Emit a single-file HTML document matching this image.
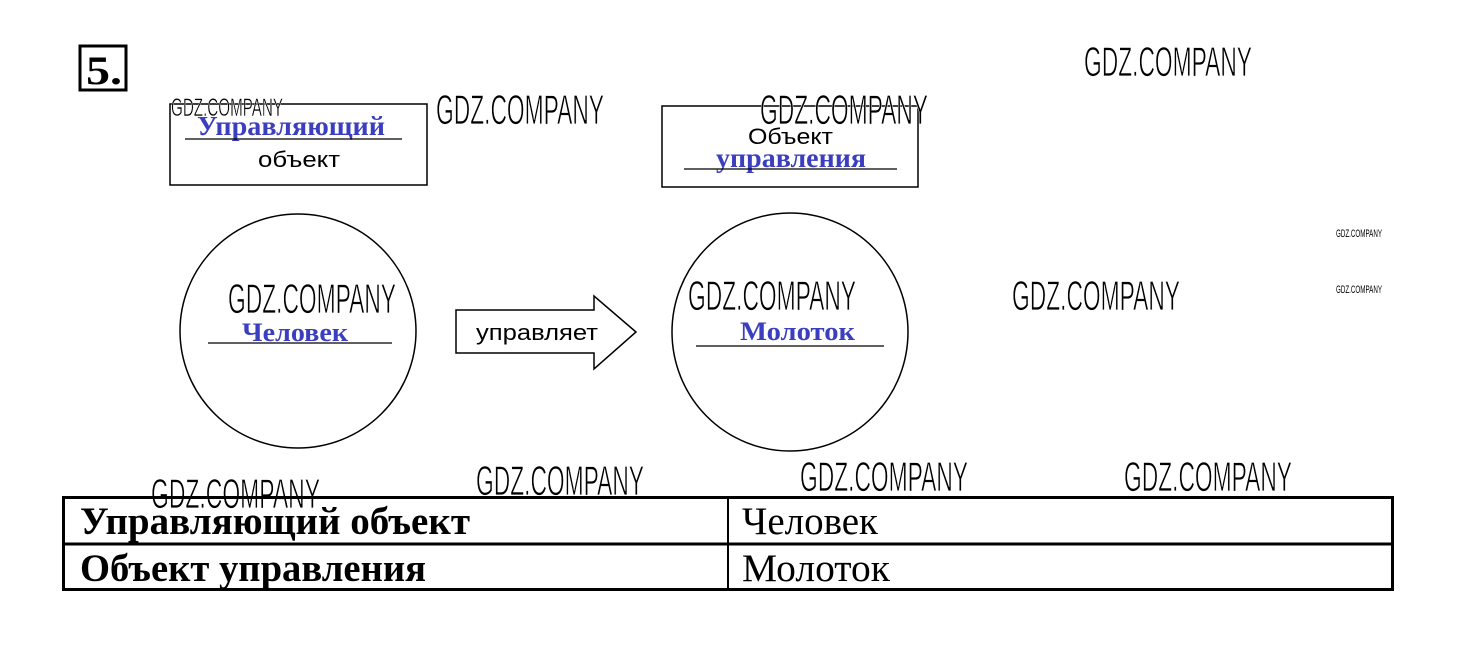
<!DOCTYPE html>
<html><head><meta charset="utf-8"><style>html,body{margin:0;padding:0;background:#fff}svg{display:block}</style></head>
<body>
<svg width="1460" height="656" viewBox="0 0 1460 656" xmlns="http://www.w3.org/2000/svg">
<rect width="1460" height="656" fill="#fff"/>
<!-- 5. -->
<rect x="80" y="46" width="46" height="44" fill="none" stroke="#000" stroke-width="3"/>
<text x="86" y="84" font-family="Liberation Serif, serif" font-weight="bold" font-size="40" textLength="36" lengthAdjust="spacingAndGlyphs">5.</text>
<!-- Box1 -->
<rect x="170" y="104" width="257" height="81" fill="none" stroke="#000" stroke-width="1.5"/>
<text x="197" y="135" font-family="Liberation Serif, serif" font-weight="bold" font-size="27" fill="#3b3fbf" textLength="188" lengthAdjust="spacingAndGlyphs">Управляющий</text>
<line x1="185" y1="139" x2="402" y2="139" stroke="#000" stroke-width="1.2"/>
<text x="258" y="167" font-family="Liberation Sans, sans-serif" font-size="22" textLength="82" lengthAdjust="spacingAndGlyphs">объект</text>
<!-- Box2 -->
<rect x="662" y="106" width="256" height="81" fill="none" stroke="#000" stroke-width="1.5"/>
<text x="748" y="144" font-family="Liberation Sans, sans-serif" font-size="22" textLength="85" lengthAdjust="spacingAndGlyphs">Объект</text>
<text x="716" y="167" font-family="Liberation Serif, serif" font-weight="bold" font-size="27" fill="#3b3fbf" textLength="150" lengthAdjust="spacingAndGlyphs">управления</text>
<line x1="684" y1="169" x2="897" y2="169" stroke="#000" stroke-width="1.2"/>
<!-- Circles -->
<ellipse cx="298" cy="331" rx="118" ry="117" fill="none" stroke="#000" stroke-width="1.5"/>
<text x="242" y="341" font-family="Liberation Serif, serif" font-weight="bold" font-size="26" fill="#3b3fbf" textLength="106" lengthAdjust="spacingAndGlyphs">Человек</text>
<line x1="208" y1="343" x2="392" y2="343" stroke="#000" stroke-width="1.2"/>
<ellipse cx="790" cy="332" rx="118" ry="119" fill="none" stroke="#000" stroke-width="1.5"/>
<text x="740" y="340" font-family="Liberation Serif, serif" font-weight="bold" font-size="26" fill="#3b3fbf" textLength="115" lengthAdjust="spacingAndGlyphs">Молоток</text>
<line x1="696" y1="346" x2="884" y2="346" stroke="#000" stroke-width="1.2"/>
<!-- Arrow -->
<path d="M456 310 H594 V296 L636 332 L594 369 V353 H456 Z" fill="#fff" stroke="#000" stroke-width="1.5"/>
<text x="476" y="340" font-family="Liberation Sans, sans-serif" font-size="22" textLength="122" lengthAdjust="spacingAndGlyphs">управляет</text>
<!-- Watermarks -->
<g font-family="Liberation Sans, sans-serif" fill="#000" stroke="#fff" stroke-width="0.8">
<text x="1084" y="76" font-size="42" textLength="168" lengthAdjust="spacingAndGlyphs">GDZ.COMPANY</text>
<text x="436" y="124" font-size="42" textLength="168" lengthAdjust="spacingAndGlyphs">GDZ.COMPANY</text>
<text x="760" y="124" font-size="42" textLength="168" lengthAdjust="spacingAndGlyphs">GDZ.COMPANY</text>
<text x="171" y="116" font-size="25" textLength="112" lengthAdjust="spacingAndGlyphs" stroke-width="0.5">GDZ.COMPANY</text>
<text x="228" y="313" font-size="42" textLength="168" lengthAdjust="spacingAndGlyphs">GDZ.COMPANY</text>
<text x="688" y="310" font-size="42" textLength="168" lengthAdjust="spacingAndGlyphs">GDZ.COMPANY</text>
<text x="1012" y="310" font-size="42" textLength="168" lengthAdjust="spacingAndGlyphs">GDZ.COMPANY</text>
<text x="151" y="508" font-size="42" textLength="169" lengthAdjust="spacingAndGlyphs">GDZ.COMPANY</text>
<text x="476" y="495" font-size="42" textLength="168" lengthAdjust="spacingAndGlyphs">GDZ.COMPANY</text>
<text x="800" y="491" font-size="42" textLength="168" lengthAdjust="spacingAndGlyphs">GDZ.COMPANY</text>
<text x="1124" y="491" font-size="42" textLength="168" lengthAdjust="spacingAndGlyphs">GDZ.COMPANY</text>
<text x="1336" y="237" font-size="11" textLength="46" lengthAdjust="spacingAndGlyphs" stroke="none">GDZ.COMPANY</text>
<text x="1336" y="293" font-size="11" textLength="46" lengthAdjust="spacingAndGlyphs" stroke="none">GDZ.COMPANY</text>
</g>
<!-- Table -->
<rect x="63.5" y="497.5" width="1329" height="92" fill="none" stroke="#000" stroke-width="3"/>
<line x1="63" y1="544" x2="1393" y2="544" stroke="#000" stroke-width="3"/>
<line x1="728" y1="497" x2="728" y2="590" stroke="#000" stroke-width="2"/>
<g font-family="Liberation Serif, serif" font-size="39">
<text x="80" y="534" font-weight="bold" textLength="390" lengthAdjust="spacingAndGlyphs">Управляющий объект</text>
<text x="80" y="581" font-weight="bold" textLength="346" lengthAdjust="spacingAndGlyphs">Объект управления</text>
<text x="742" y="534" textLength="136" lengthAdjust="spacingAndGlyphs">Человек</text>
<text x="742" y="581" textLength="148" lengthAdjust="spacingAndGlyphs">Молоток</text>
</g>
</svg>
</body></html>
